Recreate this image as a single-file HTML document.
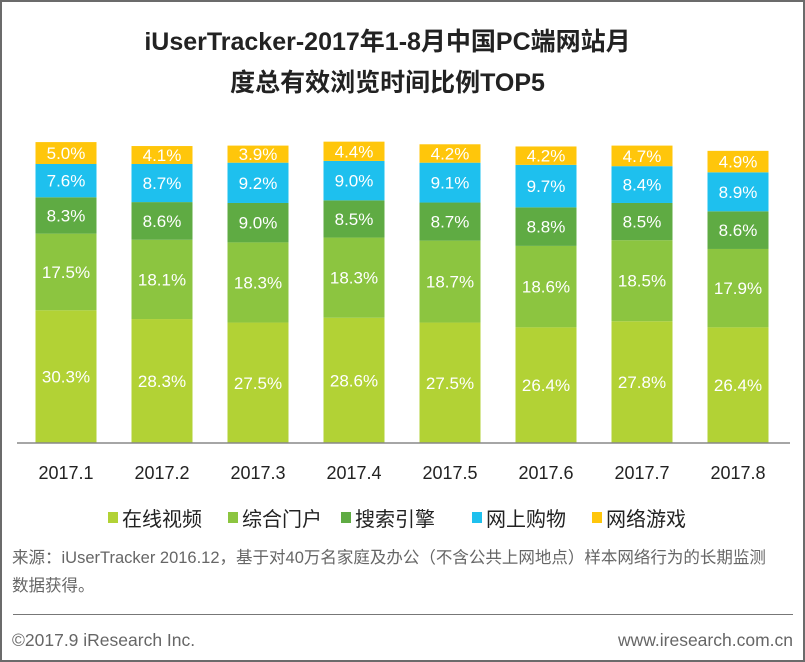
<!DOCTYPE html>
<html><head><meta charset="utf-8"><style>
body{margin:0;width:805px;height:662px;background:#fff;font-family:"Liberation Sans","Noto Sans CJK SC",sans-serif;overflow:hidden}
#frame{position:absolute;left:0;top:0;width:801px;height:658px;border:2px solid #6b6b6b}
.t{position:absolute;white-space:nowrap}
</style></head><body>
<div id="frame"></div>
<div class="t" style="left:0;width:775px;top:22px;text-align:center;font-size:25px;font-weight:bold;line-height:41px;color:#222">iUserTracker-2017年1-8月中国PC端网站月<br>度总有效浏览时间比例TOP5</div>
<svg id="chart" width="805" height="662" style="position:absolute;left:0;top:0"></svg>
<div class="t" style="left:12px;top:544px;font-size:16.5px;color:#666;line-height:28px">来源：iUserTracker 2016.12，基于对40万名家庭及办公（不含公共上网地点）样本网络行为的长期监测<br>数据获得。</div>
<div style="position:absolute;left:13px;top:614px;width:780px;height:1px;background:#777"></div>
<div class="t" style="left:12px;top:630px;font-size:17.5px;color:#666">©2017.9 iResearch Inc.</div>
<div class="t" style="right:12px;top:630px;font-size:17.5px;color:#666">www.iresearch.com.cn</div>
<script>
const categories=["2017.1","2017.2","2017.3","2017.4","2017.5","2017.6","2017.7","2017.8"];
const seriesNames=["在线视频","综合门户","搜索引擎","网上购物","网络游戏"];
const video=[30.3,28.3,27.5,28.6,27.5,26.4,27.8,26.4];
const portal=[17.5,18.1,18.3,18.3,18.7,18.6,18.5,17.9];
const search=[8.3,8.6,9.0,8.5,8.7,8.8,8.5,8.6];
const shopping=[7.6,8.7,9.2,9.0,9.1,9.7,8.4,8.9];
const games=[5.0,4.1,3.9,4.4,4.2,4.2,4.7,4.9];
const series=[video,portal,search,shopping,games];
const colors=["#b2d235","#8cc540","#5fab43","#1ec0ee","#ffc60b"];
const NS="http://www.w3.org/2000/svg";
const svg=document.getElementById('chart');
const baseY=443,scale=4.38,x0=66,step=96,bw=61;
const xPos=i=>x0+i*step;
const yLen=v=>v*scale;
function el(t,a){const e=document.createElementNS(NS,t);for(const k in a)e.setAttribute(k,a[k]);svg.appendChild(e);return e;}
categories.forEach((c,i)=>{
  let y=baseY;
  series.forEach((s,j)=>{
    const h=yLen(s[i]);y-=h;
    const r=el('rect',{x:xPos(i)-bw/2,y:y,width:bw,height:h,fill:colors[j]});
    
    
    const t=el('text',{x:xPos(i),y:y+h/2+6,'text-anchor':'middle','font-size':17,fill:'#fff','font-family':'Liberation Sans, sans-serif'});
    t.textContent=s[i].toFixed(1)+'%';
    
    
  });
  const l=el('text',{x:xPos(i),y:479,'text-anchor':'middle','font-size':18,fill:'#222','font-family':'Liberation Sans, sans-serif'});
  l.textContent=c;
  
  
});
const ax=el('line',{x1:17,x2:790,y1:baseY,y2:baseY,stroke:'#888','stroke-width':1.5});


const lx=[108,228,341,472,592];
seriesNames.forEach((n,j)=>{
  const r=el('rect',{x:lx[j],y:512,width:10,height:11,fill:colors[j]});
  
  
  const t=el('text',{x:lx[j]+14,y:526,'font-size':20,fill:'#222','font-family':'Liberation Sans, Noto Sans CJK SC, sans-serif'});
  t.textContent=n;
  
  
});
</script>
</body></html>
